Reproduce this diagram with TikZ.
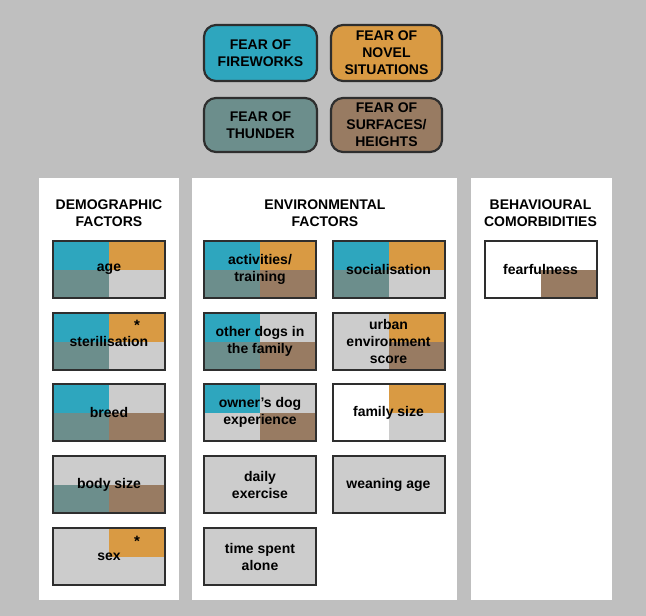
\documentclass[tikz,border=0pt]{standalone}
\usepackage{fontspec}
\setmainfont{Liberation Sans}
\definecolor{bgc}{HTML}{BFBFBF}
\definecolor{fw}{HTML}{2EA6BE}
\definecolor{nov}{HTML}{D99A43}
\definecolor{thu}{HTML}{6C8E8C}
\definecolor{sur}{HTML}{987B62}
\definecolor{lg}{HTML}{CCCCCC}
\definecolor{wh}{HTML}{FFFFFF}
\definecolor{boxline}{HTML}{2E2E2E}
\tikzset{
  txt/.style={font=\bfseries\fontsize{14}{17}\selectfont, align=center, text=black},
  legbox/.style={txt, draw=boxline, line width=2.2pt, rounded corners=12pt, minimum width=113pt, minimum height=56pt, inner sep=0pt},
  qbox/.style={txt, draw=boxline, line width=2pt, minimum width=112pt, minimum height=57pt, inner sep=0pt},
  panel/.style={fill=white, draw=none},
  head/.style={txt},
  star/.style={font=\bfseries\fontsize{15}{15}\selectfont, inner sep=0pt}
}
\newcommand\qbox[8]{%
  \node[qbox, path picture={
    \fill[#4] (path picture bounding box.north west) rectangle (path picture bounding box.center);
    \fill[#5] (path picture bounding box.north east) rectangle (path picture bounding box.center);
    \fill[#6] (path picture bounding box.south west) rectangle (path picture bounding box.center);
    \fill[#7] (path picture bounding box.south east) rectangle (path picture bounding box.center);
  }] (#1) at (#2,#3) {#8};}
\begin{document}
\begin{tikzpicture}[x=1pt,y=-1pt]
\fill[bgc] (0,0) rectangle (646,616);
\useasboundingbox (0,0) rectangle (646,616);
% legend
\node[legbox, fill=fw, minimum width=113pt, minimum height=56pt] (lfw) at (260.5,53) {FEAR OF\\FIREWORKS};
\node[legbox, fill=nov, minimum width=111pt, minimum height=56pt] (lnov) at (386.5,53) {FEAR OF\\NOVEL\\SITUATIONS};
\node[legbox, fill=thu, minimum width=113pt, minimum height=54pt] (lthu) at (260.5,125) {FEAR OF\\THUNDER};
\node[legbox, fill=sur, minimum width=111pt, minimum height=54pt] (lsur) at (386.5,125) {FEAR OF\\SURFACES/\\HEIGHTS};
% panels
\fill[panel] (39,178) rectangle (179,600);
\fill[panel] (192,178) rectangle (457,600);
\fill[panel] (471,178) rectangle (612,600);
\node[head] (hdem) at (109,213) {DEMOGRAPHIC\\FACTORS};
\node[head] (henv) at (325,213) {ENVIRONMENTAL\\FACTORS};
\node[head] (hbeh) at (540.5,213) {BEHAVIOURAL\\COMORBIDITIES};
% demographic
\qbox{age}{109}{269.5}{fw}{nov}{thu}{lg}{age}
\qbox{ster}{109}{341.5}{fw}{nov}{thu}{lg}{\rule{0pt}{9pt}sterilisation}
\qbox{breed}{109}{412.5}{fw}{lg}{thu}{sur}{breed}
\qbox{body}{109}{484.5}{lg}{lg}{thu}{sur}{body size}
\qbox{sex}{109}{556.5}{lg}{nov}{lg}{lg}{sex}
\node[star] (sterstar) at (137,325) {*};
\node[star] (sexstar) at (137,541) {*};
% environmental
\qbox{act}{260}{269.5}{fw}{nov}{thu}{sur}{activities/\\training}
\qbox{soc}{388.5}{269.5}{fw}{nov}{thu}{lg}{socialisation}
\qbox{dogs}{260}{341.5}{fw}{lg}{thu}{sur}{other dogs in\\the family}
\qbox{urban}{388.5}{341.5}{lg}{nov}{lg}{sur}{urban\\environment\\score}
\qbox{owner}{260}{412.5}{fw}{lg}{lg}{sur}{owner’s dog\\experience}
\qbox{fam}{388.5}{412.5}{wh}{nov}{wh}{lg}{family size}
\qbox{daily}{260}{484.5}{lg}{lg}{lg}{lg}{daily\\exercise}
\qbox{wean}{388.5}{484.5}{lg}{lg}{lg}{lg}{weaning age}
\qbox{alone}{260}{556.5}{lg}{lg}{lg}{lg}{time spent\\alone}
% behavioural
\qbox{fear}{540.5}{269.5}{wh}{wh}{wh}{sur}{fearfulness}
\end{tikzpicture}
\end{document}
